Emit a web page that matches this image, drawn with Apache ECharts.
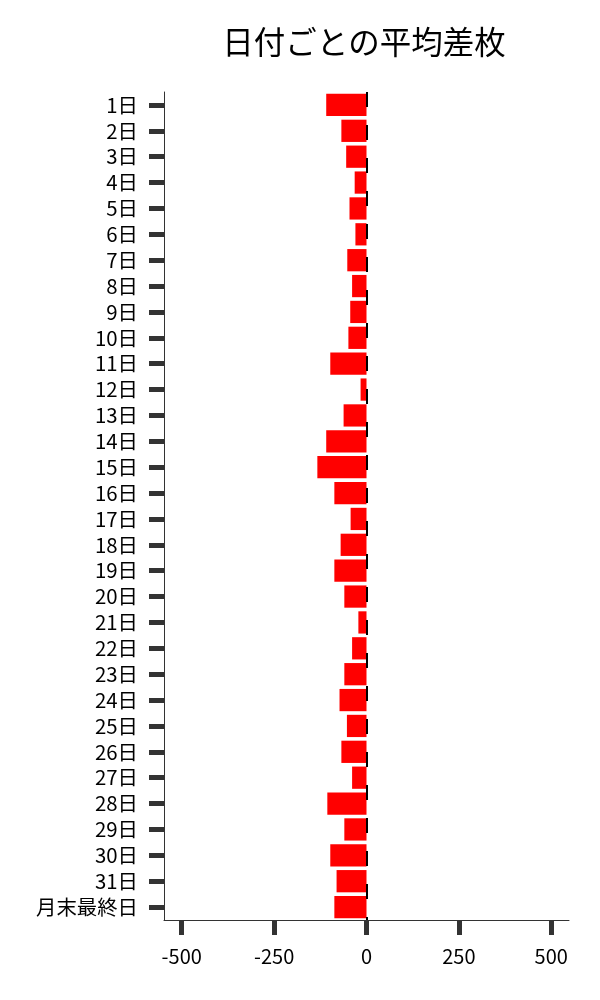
<!DOCTYPE html>
<html>
<head>
<meta charset="utf-8">
<script src="https://cdn.jsdelivr.net/npm/echarts@6/dist/echarts.min.js"></script>
<style>html,body{margin:0;padding:0;background:#fff}#c{width:600px;height:1000px}</style>
</head>
<body>
<div id="c"></div>
<script>
const categories = ['1日','2日','3日','4日','5日','6日','7日','8日','9日','10日','11日','12日','13日','14日','15日','16日','17日','18日','19日','20日','21日','22日','23日','24日','25日','26日','27日','28日','29日','30日','31日','月末最終日'];
const values = [-109,-68,-55,-32,-46,-30,-52,-39,-44,-49,-98,-16,-62,-109,-133,-87,-43,-70,-87,-60,-22,-39,-60,-73,-53,-68,-39,-106,-60,-98,-81,-87];
const xTicks = [-500,-250,0,250,500];
const titleText = '日付ごとの平均差枚';

const FONT = '"Noto Sans CJK JP", "Noto Sans", sans-serif';
const chart = echarts.init(document.getElementById('c'), null, {renderer: 'canvas'});
chart.setOption({
  backgroundColor: '#ffffff',
  animation: false,
  title: {
    text: titleText,
    left: 359, top: 21, textAlign: 'center',
    textStyle: {fontFamily: FONT, fontSize: 31.5, fontWeight: 'normal', color: '#000'}
  },
  grid: {left: 164, right: 31, top: 92, bottom: 80, containLabel: false},
  xAxis: {
    type: 'value', min: -548, max: 548,
    splitLine: {show: false},
    axisLine: {show: true, onZero: false, lineStyle: {color: '#333', width: 1}},
    axisTick: {show: true, length: 15, lineStyle: {color: '#333', width: 5}, customValues: xTicks},
    axisLabel: {margin: 26, fontFamily: FONT, fontSize: 20, color: '#000', customValues: xTicks}
  },
  yAxis: {
    type: 'category', data: categories, inverse: true,
    axisLine: {show: true, onZero: false, lineStyle: {color: '#333', width: 1}},
    axisTick: {show: true, alignWithLabel: true, interval: 0, length: 15, lineStyle: {color: '#333', width: 5}},
    axisLabel: {margin: 26, interval: 0, fontFamily: FONT, fontSize: 20.4, color: '#000'},
    splitLine: {show: false}
  },
  series: [{
    type: 'bar', data: values, barWidth: '86%',
    itemStyle: {color: '#ff0000'},
    markLine: {
      silent: true, symbol: 'none', label: {show: false},
      lineStyle: {color: '#000', width: 2, type: [15, 18], opacity: 1},
      data: [{xAxis: 0}]
    }
  }]
});
</script>
</body>
</html>
